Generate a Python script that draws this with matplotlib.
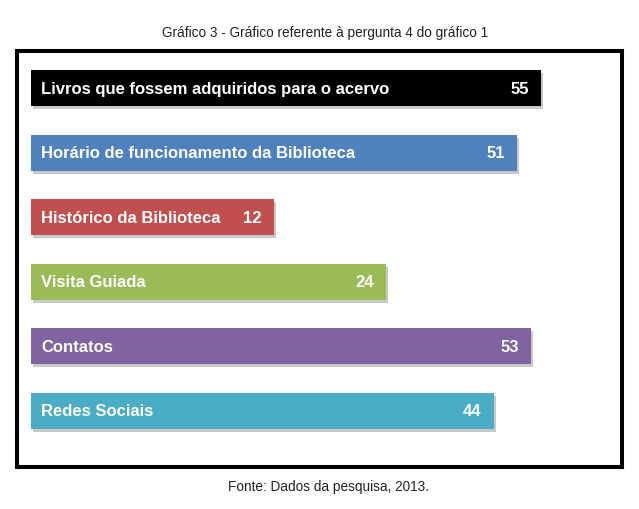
import matplotlib
matplotlib.use("Agg")
import matplotlib.pyplot as plt

# ── data ─────────────────────────────────────────────
categories = ["Livros que fossem adquiridos para o acervo",
              "Horário de funcionamento da Biblioteca",
              "Histórico da Biblioteca",
              "Visita Guiada",
              "Contatos",
              "Redes Sociais"]
values = [55, 51, 12, 24, 53, 44]
# drawn bar lengths as they appear in the original (not proportional to values)
bar_lengths = [55, 52.4, 26.2, 38.3, 53.9, 49.9]
colors = ["#000000", "#4F81BD", "#C0504D", "#9BBB59", "#8064A2", "#4BACC6"]

plt.rcParams["font.family"] = ["Liberation Sans", "DejaVu Sans"]

fig = plt.figure(figsize=(6.39, 5.10), dpi=100)
W, H = 639, 510
# axes = framed box
ax = fig.add_axes([17 / W, 1 - 468 / H, (622 - 17) / W, (468 - 52) / H])

px = 510 / 55          # pixels per unit
step = 64.6            # pixels between bar centres
ypos = list(range(len(categories)))
bh = 36 / step

# shadows
ax.barh([y + 3 / step for y in ypos], bar_lengths, height=bh, left=2 / px,
        color="#C8C8C8", zorder=1)
ax.barh(ypos, bar_lengths, height=bh, color=colors, zorder=2)

for y, cat, v, L in zip(ypos, categories, values, bar_lengths):
    ax.text(10 / px, y, cat, color="white", fontsize=12, fontweight="bold",
            va="center", ha="left", zorder=3)
    ax.text(L - 12 / px, y, str(v), color="white", fontsize=12, fontweight="bold",
            va="center", ha="right", zorder=3)

ax.set_xlim(-14 / px, (622 - 31) / px)
ax.set_ylim(5 + (468 - 412) / step, -(89 - 52) / step)
ax.set_xticks([]); ax.set_yticks([])
for s in ax.spines.values():
    s.set_linewidth(2.9)
    s.set_color("black")

fig.text(325 / W, 1 - 33 / H, "Gráfico 3 - Gráfico referente à pergunta 4 do gráfico 1",
         ha="center", va="center", fontsize=9.8, color="#222222")
fig.text(328 / W, 1 - 487 / H, "Fonte: Dados da pesquisa, 2013.",
         ha="center", va="center", fontsize=9.8, color="#222222")

plt.savefig("out.png", dpi=100)
